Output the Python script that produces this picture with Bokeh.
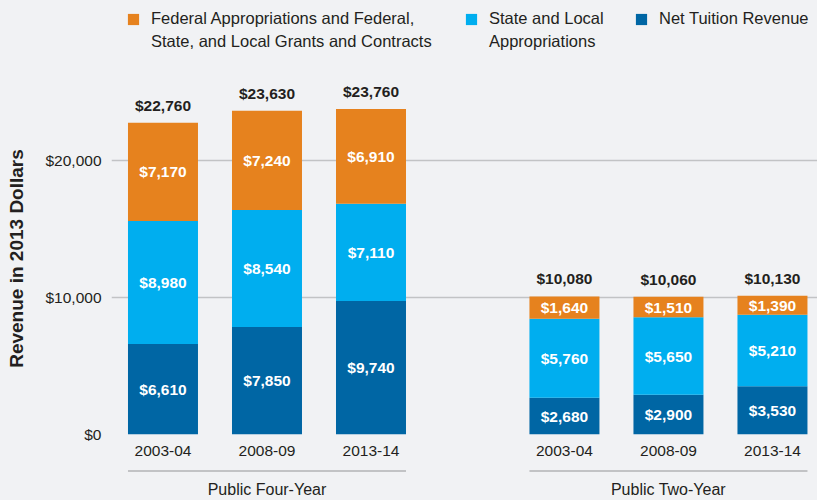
from bokeh.plotting import figure
from bokeh.models import (ColumnDataSource, Range1d, FixedTicker, NumeralTickFormatter,
                          Legend, LegendItem)
from bokeh.layouts import column
from bokeh.embed import file_html
from bokeh.resources import INLINE
from bokeh.core.properties import value

# ---------------- data ----------------
groups = ["Public Four-Year", "Public Two-Year"]
years = ["2003-04", "2008-09", "2013-14"]
net_tuition = [6610, 7850, 9740, 2680, 2900, 3530]
state_local = [8980, 8540, 7110, 5760, 5650, 5210]
federal_grants = [7170, 7240, 6910, 1640, 1510, 1390]
series_names = [
    "Federal Appropriations and Federal,\nState, and Local Grants and Contracts",
    "State and Local\nAppropriations",
    "Net Tuition Revenue",
]
y_ticks = [0, 10000, 20000]
y_title = "Revenue in 2013 Dollars"

# ---------------- style ----------------
FONT = "Liberation Sans"
BG = "#F1F2F4"
TEXT = "#231F20"
C_TUITION = "#0066A4"
C_STATE = "#00AEEF"
C_FED = "#E6821E"
GRID = "#C2C3C5"
GROUP_GAP = 0.86
BAR_W = 0.673
NUM_SIZE = "15.5px"
LEG_X = [15, 353, 523]      # legend entry offsets from the frame's left edge (px)
LEG_ROW_Y = [54, 31]        # legend row positions (px above strip bottom)

n_y = len(years)
xs = [gi * (n_y + GROUP_GAP) + yi for gi in range(len(groups)) for yi in range(n_y)]
group_centers = [gi * (n_y + GROUP_GAP) + (n_y - 1) / 2 for gi in range(len(groups))]
totals = [a + b + c for a, b, c in zip(net_tuition, state_local, federal_grants)]
series_colors = [C_FED, C_STATE, C_TUITION]

src = ColumnDataSource(dict(
    x=xs, tuition=net_tuition, state=state_local, federal=federal_grants,
    total=totals, total_label=[f"${t:,}" for t in totals],
))

def strip_fig(height, **kw):
    f = figure(width=817, height=height, output_backend="svg", toolbar_location=None,
               min_border_right=0, min_border_top=0,
               background_fill_color=BG, border_fill_color=BG, outline_line_color=None, **kw)
    f.grid.grid_line_color = None
    return f

# ---------- legend strip ----------
p0 = strip_fig(82, x_range=Range1d(0, 1), y_range=Range1d(0, 1),
               min_border_left=111, min_border_bottom=0,
               x_axis_location=None, y_axis_location=None)
# zero-size key renderers (nothing drawn in the strip, only used by the legend keys)
key_rs = [p0.vbar(x=[0], top=[0], bottom=[0], width=0, fill_color=c, line_color=None)
          for c in series_colors]
blank_r = p0.vbar(x=[0], top=[0], bottom=[0], width=0, fill_alpha=0, line_alpha=0)
for name, r, lx0 in zip(series_names, key_rs, LEG_X):
    for li, line in enumerate(name.split("\n")):
        lg = Legend(items=[LegendItem(label=line, renderers=[r if li == 0 else blank_r])],
                    orientation="horizontal", location=(lx0, LEG_ROW_Y[li]),
                    background_fill_alpha=0, border_line_color=None,
                    padding=0, margin=0, glyph_width=14, glyph_height=14,
                    label_standoff=11, label_text_font=FONT,
                    label_text_font_size="16.5px", label_text_color=TEXT)
        p0.add_layout(lg)

# ---------- main chart ----------
x_range = Range1d(-0.495, 6.293)
p = strip_fig(382, x_range=x_range, y_range=Range1d(0, 25693),
              min_border_left=111, min_border_bottom=30)

rs = p.vbar_stack(["tuition", "state", "federal"], x="x", width=BAR_W,
                  fill_color=[C_TUITION, C_STATE, C_FED], line_color=None, source=src)

# segment labels
lx, ly, lt = [], [], []
for i in range(len(xs)):
    base = 0
    for v in (net_tuition[i], state_local[i], federal_grants[i]):
        lx.append(xs[i]); ly.append(base + v / 2); lt.append(f"${v:,}")
        base += v
p.text(x=lx, y=ly, text=lt, text_align="center", text_baseline="middle",
       text_color="white", text_font=value(FONT), text_font_style="bold",
       text_font_size=NUM_SIZE)

# totals
p.text(x="x", y="total", text="total_label", source=src, y_offset=-9,
       text_align="center", text_baseline="bottom",
       text_font=value(FONT), text_font_style="bold",
       text_font_size=NUM_SIZE, text_color=TEXT)

# y axis
yax = p.yaxis[0]
yax.ticker = FixedTicker(ticks=y_ticks)
yax.formatter = NumeralTickFormatter(format="$0,0")
yax.axis_line_color = None
yax.major_tick_line_color = None
yax.minor_tick_line_color = None
yax.major_tick_out = 0
yax.major_label_standoff = 10
yax.major_label_text_font = FONT
yax.major_label_text_font_size = NUM_SIZE
yax.major_label_text_color = TEXT
yax.axis_label = y_title
yax.axis_label_standoff = 15
yax.axis_label_text_font = FONT
yax.axis_label_text_font_style = "bold"
yax.axis_label_text_font_size = "19px"
yax.axis_label_text_color = TEXT

p.ygrid.grid_line_color = GRID
p.ygrid.grid_line_width = 1.5

# x axis (years)
xax = p.xaxis[0]
xax.ticker = FixedTicker(ticks=xs)
xax.major_label_overrides = {x: years[i % n_y] for i, x in enumerate(xs)}
xax.axis_line_color = None
xax.major_tick_line_color = None
xax.minor_tick_line_color = None
xax.major_tick_out = 0
xax.axis_label_standoff = 0
xax.major_label_standoff = 11
xax.major_label_text_font = FONT
xax.major_label_text_font_size = NUM_SIZE
xax.major_label_text_color = TEXT

# ---------- group strip (separator lines + group labels) ----------
p2 = strip_fig(36, x_range=x_range, y_range=Range1d(0, 1),
               min_border_left=111, min_border_bottom=22, y_axis_location=None)
p2.segment(x0=[xs[gi * n_y] - BAR_W / 2 for gi in range(len(groups))],
           x1=[xs[gi * n_y + n_y - 1] + BAR_W / 2 for gi in range(len(groups))],
           y0=[0.5] * len(groups), y1=[0.5] * len(groups),
           line_color=GRID, line_width=2)
gax = p2.xaxis[0]
gax.ticker = FixedTicker(ticks=group_centers)
gax.major_label_overrides = {c: g for c, g in zip(group_centers, groups)}
gax.axis_line_color = None
gax.major_tick_line_color = None
gax.minor_tick_line_color = None
gax.major_tick_out = 0
gax.axis_label_standoff = 0
gax.major_label_standoff = 3
gax.major_label_text_font = FONT
gax.major_label_text_font_size = "16px"
gax.major_label_text_color = TEXT

layout = column(p0, p, p2, spacing=0)
html = file_html(layout, INLINE)
html = html.replace("<head>", "<head><style>body{background:#F1F2F4;}</style>", 1)
open("out.html", "w").write(html)
